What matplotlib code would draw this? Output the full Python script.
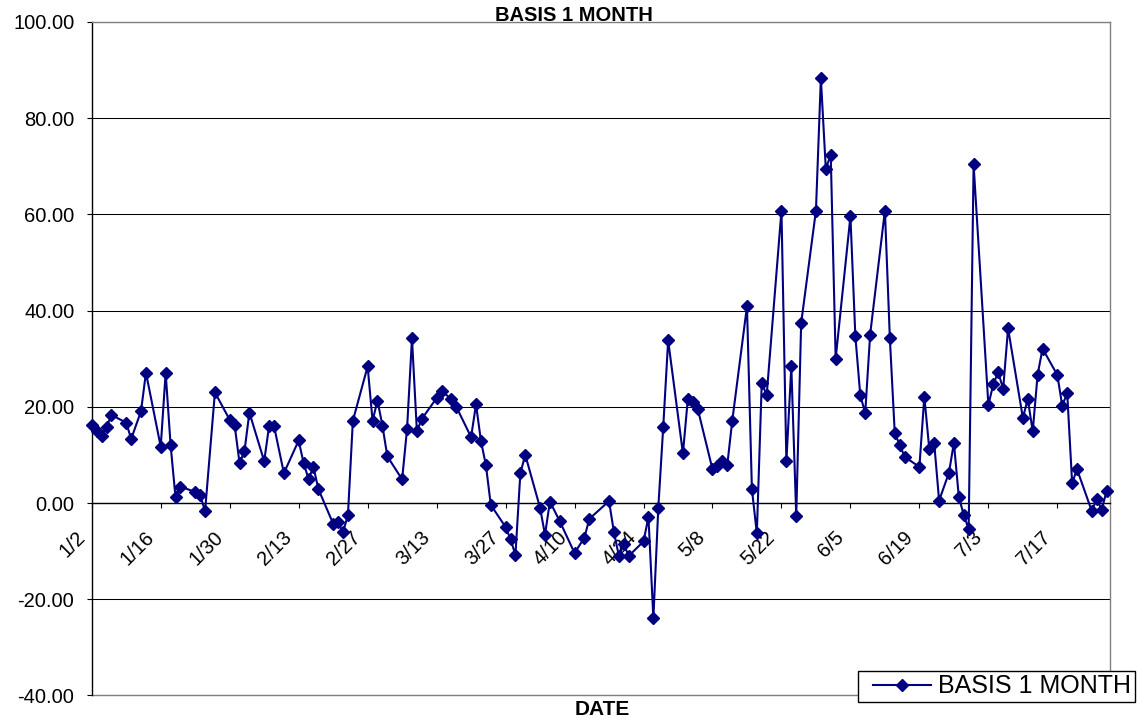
import numpy as np
import matplotlib
matplotlib.use("Agg")
import matplotlib.pyplot as plt
import matplotlib.transforms as mtransforms
from matplotlib.legend_handler import HandlerLine2D
import pandas as pd

plt.rcParams["font.family"] = ["Liberation Sans", "DejaVu Sans"]

# data (year only used to place the dates)
year = 2006
dates = ["1/2", "1/3", "1/4", "1/5", "1/6", "1/9", "1/10", "1/12", "1/13",
         "1/16", "1/17", "1/18", "1/19", "1/20", "1/23", "1/24", "1/25", "1/27",
         "1/30", "1/31", "2/1", "2/2", "2/3", "2/6", "2/7", "2/8", "2/10",
         "2/13", "2/14", "2/15", "2/16", "2/17", "2/20", "2/21", "2/22", "2/23", "2/24",
         "2/27", "2/28", "3/1", "3/2", "3/3", "3/6", "3/7", "3/8", "3/9", "3/10",
         "3/13", "3/14", "3/16", "3/17", "3/20", "3/21", "3/22", "3/23", "3/24",
         "3/27", "3/28", "3/29", "3/30", "3/31", "4/3", "4/4", "4/5", "4/7",
         "4/10", "4/12", "4/13", "4/17", "4/18", "4/19", "4/20", "4/21",
         "4/24", "4/25", "4/26", "4/27", "4/28", "4/29", "5/2", "5/3", "5/4", "5/5",
         "5/8", "5/9", "5/10", "5/11", "5/12", "5/15", "5/16", "5/17", "5/18", "5/19",
         "5/22", "5/23", "5/24", "5/25", "5/26", "5/29", "5/30", "5/31", "6/1", "6/2",
         "6/5", "6/6", "6/7", "6/8", "6/9", "6/12", "6/13", "6/14", "6/15", "6/16",
         "6/19", "6/20", "6/21", "6/22", "6/23", "6/25", "6/26", "6/27", "6/28", "6/29", "6/30",
         "7/3", "7/4", "7/5", "7/6", "7/7", "7/10", "7/11", "7/12", "7/13", "7/14",
         "7/17", "7/18", "7/19", "7/20", "7/21", "7/24", "7/25", "7/26", "7/27"]
basis = [16.3, 15.0, 14.0, 15.8, 18.3, 16.7, 13.3, 19.1, 27.1,
         11.7, 27.1, 12.1, 1.2, 3.4, 2.3, 1.7, -1.7, 23.0,
         17.3, 16.2, 8.3, 10.8, 18.8, 8.7, 16.0, 16.0, 6.2,
         13.0, 8.3, 5.0, 7.5, 2.9, -4.3, -4.0, -6.1, -2.5, 17.1,
         28.4, 17.1, 21.3, 16.1, 9.7, 4.9, 15.4, 34.2, 14.9, 17.5,
         21.8, 23.3, 21.6, 20.0, 13.7, 20.5, 12.9, 7.9, -0.4,
         -5.0, -7.5, -10.8, 6.2, 10.0, -1.0, -6.6, 0.3, -3.8,
         -10.4, -7.2, -3.3, 0.4, -6.1, -11.0, -8.6, -11.0,
         -8.0, -2.9, -24.0, -1.0, 15.8, 33.8, 10.3, 21.7, 21.0, 19.6,
         7.0, 7.6, 8.7, 7.9, 17.0, 40.9, 2.9, -6.3, 25.0, 22.4,
         60.8, 8.7, 28.4, -2.6, 37.4, 60.8, 88.3, 69.5, 72.4, 30.0,
         59.6, 34.7, 22.4, 18.7, 35.0, 60.8, 34.3, 14.5, 12.1, 9.6,
         7.5, 22.1, 11.3, 12.5, 0.5, 6.3, 12.5, 1.3, -2.5, -5.4, 70.4,
         20.4, 24.7, 27.2, 23.7, 36.3, 17.7, 21.6, 14.9, 26.7, 32.1,
         26.6, 20.2, 22.9, 4.2, 7.0, -1.7, 0.9, -1.4, 2.5]
tick_labels = ["1/2", "1/16", "1/30", "2/13", "2/27", "3/13", "3/27", "4/10",
               "4/24", "5/8", "5/22", "6/5", "6/19", "7/3", "7/17"]
y_ticks = [-40, -20, 0, 20, 40, 60, 80, 100]

x = pd.to_datetime([f"{year}/{d}" for d in dates], format="%Y/%m/%d").to_pydatetime()
xt = pd.to_datetime([f"{year}/{d}" for d in tick_labels], format="%Y/%m/%d").to_pydatetime()

fig = plt.figure(figsize=(11.37, 7.21), dpi=100)
ax = fig.add_axes([0.0807, 0.0355, 0.8956, 0.934])

line, = ax.plot(x, basis, color="#000080", lw=1.5, marker="D", ms=6.5,
                mfc="#000080", mec="#000080", label="BASIS 1 MONTH",
                clip_on=False, zorder=4)

ax.set_ylim(-40, 100)
ax.set_yticks(y_ticks)
ax.yaxis.set_major_formatter(lambda v, p: f"{v:.2f}")
ax.set_xlim(xt[0], xt[0] + pd.Timedelta(days=206.7).to_pytimedelta())
ax.set_xticks(xt)

ax.yaxis.grid(True, color="black", lw=0.75)
ax.set_axisbelow(True)

ax.spines["left"].set_color("black")
ax.spines["left"].set_linewidth(1.0)
ax.spines["bottom"].set_position(("data", 0))
ax.spines["bottom"].set_color("black")
ax.spines["bottom"].set_linewidth(1.0)
for s in ["top", "right"]:
    ax.spines[s].set_color("#808080")
    ax.spines[s].set_linewidth(1.0)
ax.axhline(-40, color="#808080", lw=1.0, clip_on=False, zorder=2.5)

ax.tick_params(axis="y", direction="out", length=3.6, width=0.8, pad=9,
               labelsize=14.5, colors="black")
ax.tick_params(axis="x", direction="out", length=3.6, width=0.8, pad=22)
ax.set_xticklabels(tick_labels, rotation=45, ha="right", va="baseline",
                   rotation_mode="anchor", fontsize=14.5)
shift = mtransforms.ScaledTranslation(-0.06, 0, fig.dpi_scale_trans)
for lab in ax.get_xticklabels():
    lab.set_transform(lab.get_transform() + shift)

fig.text(574 / 1137, 1 - 21 / 721, "BASIS 1 MONTH", ha="center", va="baseline",
         fontsize=14.5, fontweight="bold")
fig.text(602 / 1137, 1 - 715 / 721, "DATE", ha="center", va="baseline",
         fontsize=15, fontweight="bold")

leg = ax.legend(loc="lower right", bbox_to_anchor=(1135 / 1137, 1 - 702 / 721),
                bbox_transform=fig.transFigure, borderaxespad=0, fontsize=18,
                fancybox=False, framealpha=1, edgecolor="black",
                borderpad=0.15, handlelength=2.75, handletextpad=0.3,
                handler_map={line: HandlerLine2D(xpad=0.45)})
leg.get_frame().set_linewidth(1.0)
leg.set_zorder(6)

fig.savefig("out.png", dpi=100)
